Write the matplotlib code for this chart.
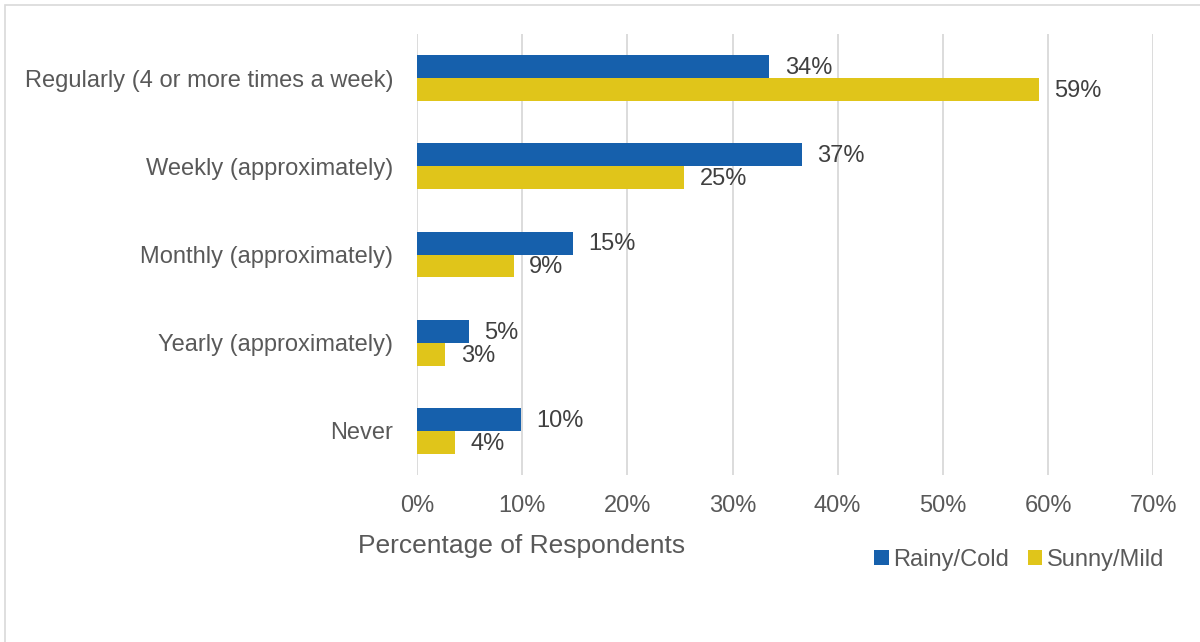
import matplotlib.pyplot as plt
from matplotlib.patches import Rectangle
import numpy as np

plt.rcParams['font.family'] = ['Liberation Sans', 'DejaVu Sans']

categories = ['Regularly (4 or more times a week)', 'Weekly (approximately)',
              'Monthly (approximately)', 'Yearly (approximately)', 'Never']
rainy = [33.5, 36.6, 14.8, 4.9, 9.9]
sunny = [59.1, 25.4, 9.2, 2.7, 3.6]
rainy_labels = ['34%', '37%', '15%', '5%', '10%']
sunny_labels = ['59%', '25%', '9%', '3%', '4%']
xticks = [0, 10, 20, 30, 40, 50, 60, 70]

blue = '#1660AC'
yellow = '#E0C51A'
txt = '#595959'

fig = plt.figure(figsize=(12, 6.42), dpi=100)
ax = fig.add_axes([0.3475, 0.26, 0.6135, 0.687])

# outer chart border
fig.patches.append(Rectangle((0.004, -0.01), 1.2, 1.002, transform=fig.transFigure,
                             fill=False, edgecolor='#D9D9D9', lw=1.2))

y = np.arange(len(categories))
h = 0.26
b1 = ax.barh(y - h / 2, rainy, height=h, color=blue, label='Rainy/Cold', zorder=3)
b2 = ax.barh(y + h / 2, sunny, height=h, color=yellow, label='Sunny/Mild', zorder=3)

for bars, labels in [(b1, rainy_labels), (b2, sunny_labels)]:
    for bar, lab in zip(bars, labels):
        ax.annotate(lab, (bar.get_width(), bar.get_y() + bar.get_height() / 2),
                    xytext=(11, -1), textcoords='offset points', va='center', ha='left',
                    fontsize=17, color='#404040')

ax.set_ylim(len(categories) - 0.5, -0.5)
ax.set_xlim(0, 70)
ax.set_xticks(xticks)
ax.set_xticklabels([f'{t}%' for t in xticks], fontsize=17, color=txt)
ax.set_yticks(y)
ax.set_yticklabels(categories, fontsize=17, color=txt)
ax.tick_params(length=0)
ax.tick_params(axis='x', pad=14)
ax.tick_params(axis='y', pad=17)
ax.grid(axis='x', color='#D9D9D9', lw=1.3, zorder=0)
for s in ax.spines.values():
    s.set_visible(False)

fig.text(0.298, 0.138, 'Percentage of Respondents', fontsize=19, color=txt)

ax.legend(loc='upper right', bbox_to_anchor=(0.988, 0.178), bbox_transform=fig.transFigure,
          ncol=2, frameon=False, fontsize=17, labelcolor=txt, handlelength=0.6,
          handleheight=0.6, handletextpad=0.2, columnspacing=0.8)

fig.savefig('out.png', dpi=100)
